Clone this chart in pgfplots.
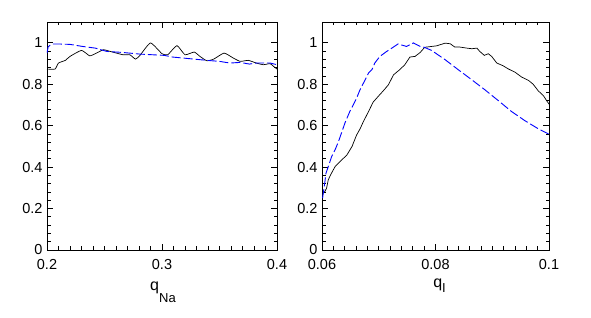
\documentclass[border=0pt]{standalone}
\usepackage{pgfplots}
\pgfplotsset{compat=1.18}
\usepackage{fontspec}
\setmainfont{Liberation Sans}
\begin{document}
\begin{tikzpicture}
\useasboundingbox (0pt,0pt) rectangle (591pt,318pt);
\pgfplotsset{
  every axis/.append style={
    scale only axis,
    height=228pt,
    ymin=0, ymax=1.1,
    ytick={0,0.2,0.4,0.6,0.8,1},
    minor y tick num=4,
    minor x tick num=9,
    tick align=inside,
    major tick length=6pt,
    minor tick length=3.5pt,
    scaled ticks=false,
    axis line style={line width=0.8pt},
    every tick/.style={line width=0.7pt,black},
    /pgf/number format/assume math mode=true,
    /pgf/number format/fixed,
    /pgf/number format/precision=2,
    tick label style={font=\fontsize{14.5}{15}\selectfont},
    xticklabel style={yshift=-6pt},
    yticklabel style={xshift=-1pt},
  }
}
\begin{axis}[at={(47pt,68pt)}, anchor=south west, width=230pt,
  xmin=0.2, xmax=0.4, xtick={0.2,0.3,0.4},
  xlabel={q\raisebox{-0.75em}{\fontsize{13}{13}\selectfont Na}},
  xlabel style={at={(axis description cs:0.5,0)}, anchor=base, yshift=-41pt, xshift=1pt, font=\fontsize{16}{16}\selectfont}]
\addplot[black, line width=0.7pt, smooth, tension=0.3] coordinates {
(0.200,0.873)(0.207,0.873)(0.210,0.902)(0.216,0.915)(0.220,0.934)(0.230,0.963)
(0.237,0.937)(0.242,0.947)(0.249,0.966)(0.255,0.958)(0.266,0.942)(0.272,0.942)
(0.277,0.921)(0.281,0.940)(0.290,0.999)(0.300,0.947)(0.305,0.942)(0.313,0.986)
(0.320,0.942)(0.328,0.955)(0.333,0.934)(0.339,0.913)(0.345,0.921)(0.354,0.950)
(0.362,0.926)(0.368,0.910)(0.375,0.915)(0.382,0.902)(0.388,0.894)(0.394,0.899)
(0.397,0.886)(0.400,0.873)};
\addplot[blue, line width=0.9pt, dash pattern=on 9pt off 3pt] coordinates {
(0.200,0.950)(0.201,0.980)(0.204,0.994)(0.210,0.994)(0.220,0.992)(0.231,0.982)
(0.242,0.974)(0.252,0.958)(0.266,0.953)(0.281,0.945)(0.302,0.939)(0.309,0.931)
(0.324,0.923)(0.339,0.915)(0.350,0.910)(0.359,0.902)(0.368,0.905)(0.376,0.897)
(0.382,0.902)(0.394,0.902)(0.400,0.894)};
\end{axis}
\begin{axis}[at={(322pt,68pt)}, anchor=south west, width=227pt,
  xmin=0.06, xmax=0.1, xtick={0.06,0.08,0.1},
  xlabel={q\raisebox{-0.3em}{\fontsize{13}{13}\selectfont I}},
  xlabel style={at={(axis description cs:0.5,0)}, anchor=base, yshift=-38pt, xshift=4pt, font=\fontsize{16}{16}\selectfont}]
\addplot[black, line width=0.7pt] coordinates {
(0.0601,0.274)(0.0605,0.282)(0.0608,0.298)(0.0611,0.338)(0.0615,0.362)(0.0623,0.402)
(0.0632,0.427)(0.0644,0.459)(0.0653,0.500)(0.0661,0.555)(0.0667,0.584)(0.0673,0.620)
(0.0682,0.668)(0.0690,0.713)(0.0699,0.741)(0.0708,0.768)(0.0717,0.797)(0.0726,0.845)
(0.0737,0.870)(0.0746,0.894)(0.0755,0.931)(0.0764,0.934)(0.0773,0.953)(0.0781,0.978)
(0.0802,0.985)(0.0817,0.998)(0.0826,0.995)(0.0834,0.979)(0.0843,0.979)(0.0855,0.974)
(0.0864,0.971)(0.0873,0.974)(0.0878,0.958)(0.0886,0.939)(0.0893,0.947)(0.0899,0.934)
(0.0908,0.902)(0.0919,0.889)(0.0928,0.874)(0.0940,0.858)(0.0952,0.834)(0.0964,0.818)
(0.0972,0.800)(0.0981,0.768)(0.0990,0.745)(0.0996,0.720)(0.1000,0.704)};
\addplot[blue, line width=0.9pt, dash pattern=on 9pt off 3pt] coordinates {
(0.0601,0.250)(0.0604,0.306)(0.0607,0.370)(0.0611,0.402)(0.0617,0.451)(0.0623,0.483)
(0.0629,0.523)(0.0635,0.570)(0.0641,0.617)(0.0649,0.668)(0.0655,0.700)(0.0661,0.733)
(0.0667,0.773)(0.0673,0.805)(0.0682,0.854)(0.0688,0.870)(0.0693,0.902)(0.0702,0.934)
(0.0714,0.958)(0.0723,0.974)(0.0734,0.994)(0.0749,0.982)(0.0761,0.999)(0.0773,0.982)
(0.0781,0.977)(0.0793,0.963)(0.0817,0.918)(0.0840,0.870)(0.0864,0.821)(0.0887,0.773)
(0.0911,0.720)(0.0934,0.668)(0.0958,0.623)(0.0981,0.585)(0.1000,0.559)};
\end{axis}
\end{tikzpicture}
\end{document}
